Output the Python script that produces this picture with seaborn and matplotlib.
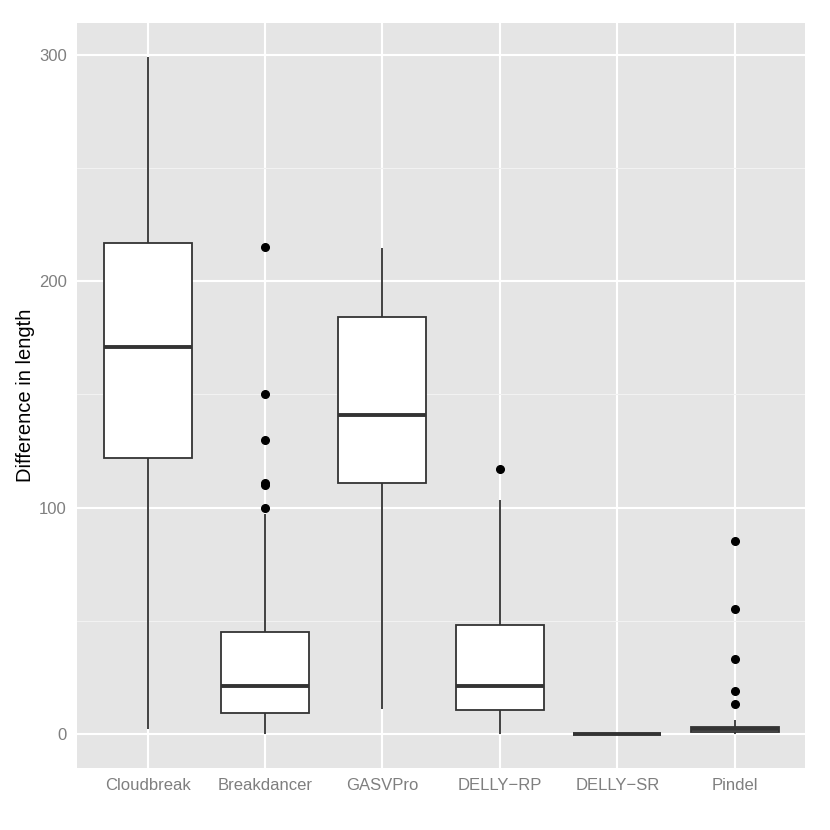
import matplotlib
matplotlib.use("Agg")
import matplotlib.pyplot as plt
import seaborn as sns
import pandas as pd
from matplotlib.ticker import MultipleLocator

tools = ["Cloudbreak", "Breakdancer", "GASVPro", "DELLY\u2212RP", "DELLY\u2212SR", "Pindel"]

cloudbreak = [2, 60, 122, 150, 171, 200, 217, 260, 299]
breakdancer = [0, 1, 2, 3, 4, 5, 6, 8, 9.3,
               10, 12, 14, 15, 17, 18, 20, 21,
               23, 25, 28, 31, 35, 38, 42, 45,
               60, 97, 100, 110, 111, 130, 150, 215]
gasvpro = [11, 60, 111, 125, 141, 160, 184, 200, 214.5]
delly_rp = [0, 5, 10.6, 15, 21, 35, 48, 103.5, 117]
delly_sr = [0, 0, 0, 0, 0]
pindel = [0, 0, 0, 0, 0, 0.5, 0.7, 1, 1, 1, 1.5, 2, 2,
          2, 3, 3, 3, 3, 3.2, 6, 13, 19, 33, 55, 85]

values = [cloudbreak, breakdancer, gasvpro, delly_rp, delly_sr, pindel]
df = pd.DataFrame({
    "tool": [t for t, v in zip(tools, values) for _ in v],
    "diff": [x for v in values for x in v],
})

sns.set_style("darkgrid")
plt.rcParams["font.family"] = ["Liberation Sans", "DejaVu Sans"]

fig = plt.figure(figsize=(8.3, 8.3), dpi=100)
ax = fig.add_axes([0.093, 0.075, 0.877, 0.897])
ax.set_facecolor("#E5E5E5")

sns.boxplot(data=df, x="tool", y="diff", order=tools, ax=ax,
            width=0.75, color="white", linecolor="#333333", linewidth=1.3,
            saturation=1, showcaps=False, whis=1.5, fliersize=5.5,
            flierprops=dict(marker="o", markerfacecolor="black",
                            markeredgecolor="black"),
            medianprops=dict(linewidth=2.8, color="#333333"))

ax.set_xlim(-0.6, 5.6)
ax.set_ylim(-15, 314)
ax.yaxis.set_major_locator(MultipleLocator(100))
ax.yaxis.set_minor_locator(MultipleLocator(50))
ax.grid(which="major", color="white", linewidth=1.5)
ax.grid(which="minor", axis="y", color="#F2F2F2", linewidth=0.8)
ax.set_axisbelow(True)
for s in ax.spines.values():
    s.set_visible(False)

ax.tick_params(axis="both", which="major", colors="#7F7F7F", labelsize=12,
               length=4.5, width=1.1, labelcolor="#7F7F7F", pad=3)
ax.tick_params(axis="y", which="minor", length=0)
ax.set_xlabel("")
ax.set_ylabel("Difference in length", fontsize=14.5, color="black", labelpad=2.5)

fig.savefig("out.png", dpi=100)
